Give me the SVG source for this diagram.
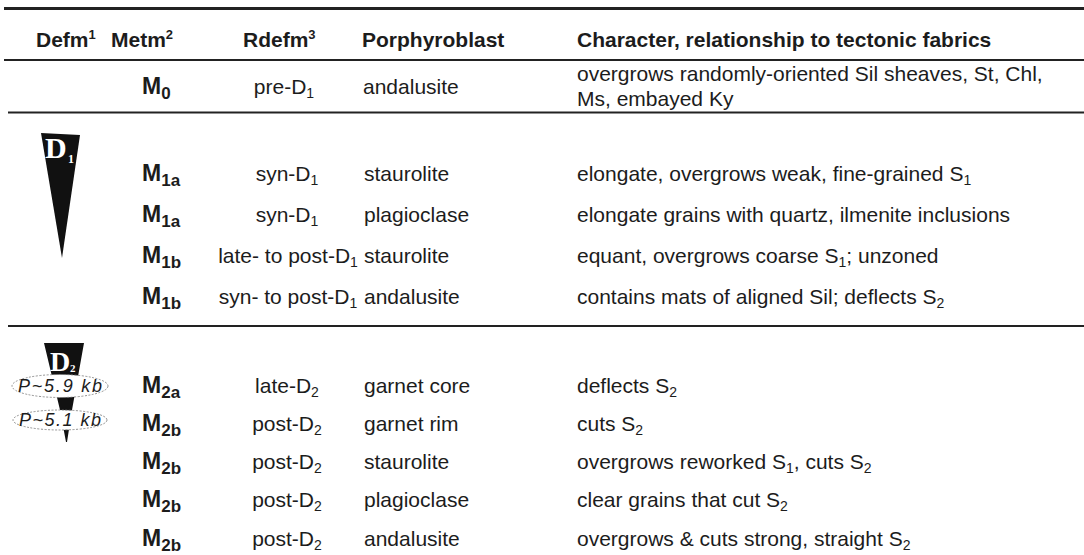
<svg xmlns="http://www.w3.org/2000/svg" width="1084" height="555" viewBox="0 0 1084 555">
<style>
text{font-family:"Liberation Sans",Arial,sans-serif;fill:#1c1c1c;font-size:21px}
.h{font-weight:bold}
.sup{font-size:13px}
.m{font-weight:bold;font-size:23px}
.ms{font-size:17px;font-weight:bold}
.sb{font-size:14px}
.c{text-anchor:middle}
.rule{stroke:#222;fill:none}
.wedge{fill:#111}
.dl{font-family:"Liberation Serif","Times New Roman",serif;font-weight:bold;fill:#fff}
.dbig{font-size:30px}
.dsm{font-size:12px}
.ell{fill:#fff;stroke:#777;stroke-width:0.8;stroke-dasharray:2 1.5}
.pt{font-style:italic;font-size:18px;text-anchor:middle}
</style>
<rect width="1084" height="555" fill="#fff"/>
<g id="rules">
<line class="rule" x1="4" y1="8.5" x2="1084" y2="8.5" stroke-width="3"/>
<line class="rule" x1="4" y1="60" x2="1084" y2="60" stroke-width="2"/>
<line class="rule" x1="8" y1="112.5" x2="1084" y2="112.5" stroke-width="2"/>
<line class="rule" x1="8" y1="326" x2="1084" y2="326" stroke-width="2"/>
</g>
<g id="header">
<text class="h" x="36" y="47">Defm<tspan class="sup" dy="-8">1</tspan></text>
<text class="h" x="111" y="47">Metm<tspan class="sup" dy="-8">2</tspan></text>
<text class="h" x="243" y="47">Rdefm<tspan class="sup" dy="-8">3</tspan></text>
<text class="h" x="362" y="47">Porphyroblast</text>
<text class="h" x="577" y="47">Character, relationship to tectonic fabrics</text>
</g>
<g id="row-m0">
<text class="m" x="142" y="94">M<tspan class="ms" dy="5">0</tspan></text>
<text class="c" x="284" y="94">pre-D<tspan class="sb" dy="4">1</tspan></text>
<text x="363" y="94">andalusite</text>
<text x="577" y="81">overgrows randomly-oriented Sil sheaves, St, Chl,</text>
<text x="577" y="106">Ms, embayed Ky</text>
</g>
<g id="d1">
<polygon class="wedge" points="41,133 80,135 62,258"/>
<text class="dl dbig" x="45" y="158">D</text>
<text class="dl dsm" x="68" y="163">1</text>
</g>
<g id="row-m1a-st">
<text class="m" x="142" y="181">M<tspan class="ms" dy="5">1a</tspan></text>
<text class="c" x="287" y="181">syn-D<tspan class="sb" dy="4">1</tspan></text>
<text x="364" y="181">staurolite</text>
<text x="577" y="181">elongate, overgrows weak, fine-grained S<tspan class="sb" dy="4">1</tspan></text>
</g>
<g id="row-m1a-pl">
<text class="m" x="142" y="222">M<tspan class="ms" dy="5">1a</tspan></text>
<text class="c" x="287" y="222">syn-D<tspan class="sb" dy="4">1</tspan></text>
<text x="364" y="222">plagioclase</text>
<text x="577" y="222">elongate grains with quartz, ilmenite inclusions</text>
</g>
<g id="row-m1b-st">
<text class="m" x="142" y="263">M<tspan class="ms" dy="5">1b</tspan></text>
<text class="c" x="288" y="263">late- to post-D<tspan class="sb" dy="4">1</tspan></text>
<text x="364" y="263">staurolite</text>
<text x="577" y="263">equant, overgrows coarse S<tspan class="sb" dy="4">1</tspan><tspan dy="-4">; unzoned</tspan></text>
</g>
<g id="row-m1b-and">
<text class="m" x="142" y="304">M<tspan class="ms" dy="5">1b</tspan></text>
<text class="c" x="288" y="304">syn- to post-D<tspan class="sb" dy="4">1</tspan></text>
<text x="364" y="304">andalusite</text>
<text x="577" y="304">contains mats of aligned Sil; deflects S<tspan class="sb" dy="4">2</tspan></text>
</g>
<g id="d2">
<polygon class="wedge" points="44,343 84,343 72,410 67,442 66,442 60,410"/>
<text class="dl dbig" x="50" y="371" style="font-size:28px">D</text>
<text class="dl dsm" x="70" y="372" style="font-size:11px">2</text>
<ellipse class="ell" cx="60" cy="386" rx="48" ry="11.5"/>
<text class="pt" x="60" y="392" textLength="84" lengthAdjust="spacing">P~5.9 kb</text>
<ellipse class="ell" cx="60" cy="420" rx="47" ry="10"/>
<text class="pt" x="60" y="426" textLength="82" lengthAdjust="spacing">P~5.1 kb</text>
</g>
<g id="row-m2a-grt">
<text class="m" x="142" y="393">M<tspan class="ms" dy="5">2a</tspan></text>
<text class="c" x="287" y="393">late-D<tspan class="sb" dy="4">2</tspan></text>
<text x="364" y="393">garnet core</text>
<text x="577" y="393">deflects S<tspan class="sb" dy="4">2</tspan></text>
</g>
<g id="row-m2b-grt">
<text class="m" x="142" y="431">M<tspan class="ms" dy="5">2b</tspan></text>
<text class="c" x="287" y="431">post-D<tspan class="sb" dy="4">2</tspan></text>
<text x="364" y="431">garnet rim</text>
<text x="577" y="431">cuts S<tspan class="sb" dy="4">2</tspan></text>
</g>
<g id="row-m2b-st">
<text class="m" x="142" y="469">M<tspan class="ms" dy="5">2b</tspan></text>
<text class="c" x="287" y="469">post-D<tspan class="sb" dy="4">2</tspan></text>
<text x="364" y="469">staurolite</text>
<text x="577" y="469">overgrows reworked S<tspan class="sb" dy="4">1</tspan><tspan dy="-4">, cuts S</tspan><tspan class="sb" dy="4">2</tspan></text>
</g>
<g id="row-m2b-pl">
<text class="m" x="142" y="507">M<tspan class="ms" dy="5">2b</tspan></text>
<text class="c" x="287" y="507">post-D<tspan class="sb" dy="4">2</tspan></text>
<text x="364" y="507">plagioclase</text>
<text x="577" y="507">clear grains that cut S<tspan class="sb" dy="4">2</tspan></text>
</g>
<g id="row-m2b-and">
<text class="m" x="142" y="546">M<tspan class="ms" dy="5">2b</tspan></text>
<text class="c" x="287" y="546">post-D<tspan class="sb" dy="4">2</tspan></text>
<text x="364" y="546">andalusite</text>
<text x="577" y="546">overgrows &amp; cuts strong, straight S<tspan class="sb" dy="4">2</tspan></text>
</g>
</svg>
